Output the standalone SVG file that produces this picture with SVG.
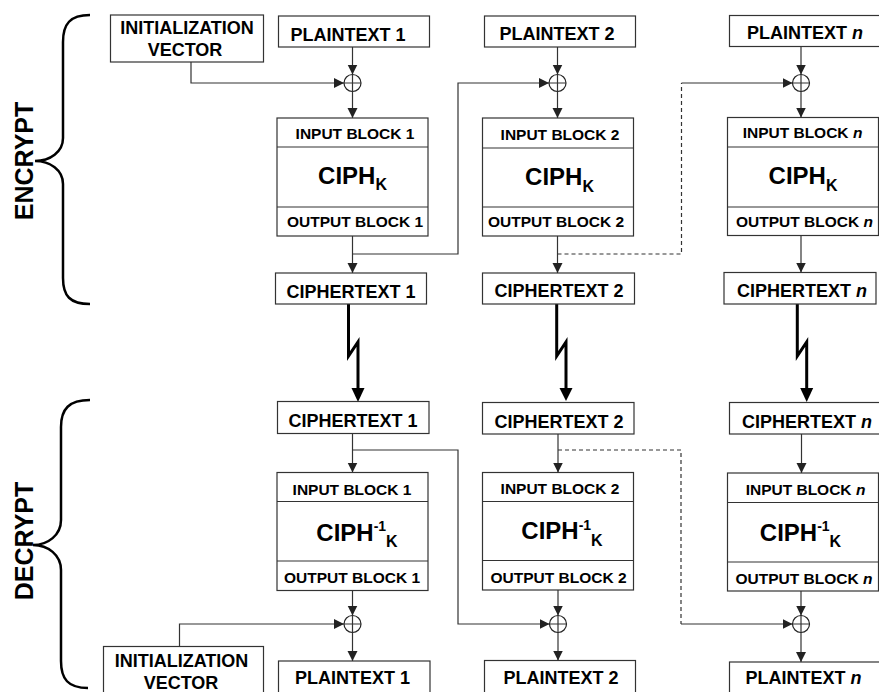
<svg xmlns="http://www.w3.org/2000/svg" width="879" height="692" viewBox="0 0 879 692">
<defs>
<marker id="ah" markerUnits="userSpaceOnUse" markerWidth="11" markerHeight="11" refX="10" refY="5" orient="auto"><path d="M0,0 L10,5 L0,10 z" fill="#222"/></marker>
<style>
text{font-family:"Liberation Sans",Arial,sans-serif;font-weight:bold;fill:#000;text-anchor:middle}
.lbl{font-size:18px}
.blk{font-size:15.5px}
.ciph{font-size:24px}
.sub{font-size:16px}
.sup{font-size:14px}
.side{font-size:25px}
.box{fill:#fff;stroke:#333;stroke-width:1.2}
.div{stroke:#333;stroke-width:1.2}
.c{fill:none;stroke:#333;stroke-width:1.2}
.arr{marker-end:url(#ah)}
.dash{stroke-dasharray:4 3}
.xor{fill:#fff;stroke:#222;stroke-width:1.2}
.bolt{fill:none;stroke:#000;stroke-width:3}
.brace{fill:none;stroke:#000;stroke-width:2.5}
</style>
</defs>
<rect width="879" height="692" fill="#fff"/>

<g id="braces">
<path class="brace" d="M90 15 C70 15 63 24 63 42 V138 C63 152 50 161 35 161 C50 161 63 170 63 184 V278 C63 296 70 304 90 304"/>
<text class="side" transform="translate(33,161) rotate(-90)">ENCRYPT</text>
<path class="brace" d="M90 400 C69 400 61 409 61 427 V520 C61 535 48 545 33 545 C48 545 61 555 61 570 V661 C61 679 68 688 88 688"/>
<text class="side" transform="translate(33,541) rotate(-90)">DECRYPT</text>
</g>

<g id="connectors">
<path class="c arr" d="M352.5 47 V74.5"/>
<path class="c arr" d="M191 62 V83 H344"/>
<path class="c arr" d="M352.5 91.5 V118"/>
<path class="c arr" d="M352.5 236 V273"/>
<path class="c arr" d="M352.5 254 H458 V83 H549"/>
<path class="c arr" d="M557.5 47 V74.5"/>
<path class="c arr" d="M557.5 91.5 V118"/>
<path class="c arr" d="M557.5 236 V273"/>
<path class="c dash" d="M557.5 254 H681.5 V83"/>
<path class="c arr" d="M681.5 83 H792.5"/>
<path class="c arr" d="M801 46 V74.5"/>
<path class="c arr" d="M801 91.5 V117.5"/>
<path class="c arr" d="M801 235.5 V272.5"/>
<path class="bolt" d="M348.5 304 V356 L358 342 V389"/>
<path d="M351.5 388 H364.5 L358 402 z" fill="#000"/>
<path class="bolt" d="M556.7 304 V356 L566 342 V389"/>
<path d="M559.5 388 H572.5 L566 401 z" fill="#000"/>
<path class="bolt" d="M797.3 304 V356 L806.7 342 V389"/>
<path d="M800.2 388 H813.2 L806.7 402 z" fill="#000"/>
<path class="c arr" d="M352.5 433.5 V472.5"/>
<path class="c arr" d="M352.5 450 H458 V624 H549.5"/>
<path class="c arr" d="M352.5 590.5 V615.5"/>
<path class="c arr" d="M179.5 646.5 V624 H344"/>
<path class="c arr" d="M352.5 632.5 V661"/>
<path class="c arr" d="M558 434 V472.5"/>
<path class="c dash" d="M558 450 H681 V624"/>
<path class="c arr" d="M681 624 H792.5"/>
<path class="c arr" d="M558 590 V615.5"/>
<path class="c arr" d="M558 632.5 V660.5"/>
<path class="c arr" d="M801.5 434 V473"/>
<path class="c arr" d="M801 591 V615.5"/>
<path class="c arr" d="M801 632.5 V662"/>
</g>

<g id="xor-e1"><circle class="xor" cx="352.5" cy="83" r="8.5"/><path class="c" d="M344 83 H361 M352.5 74.5 V91.5"/></g>
<g id="xor-e2"><circle class="xor" cx="557.5" cy="83" r="8.5"/><path class="c" d="M549 83 H566 M557.5 74.5 V91.5"/></g>
<g id="xor-en"><circle class="xor" cx="801" cy="83" r="8.5"/><path class="c" d="M792.5 83 H809.5 M801 74.5 V91.5"/></g>
<g id="xor-d1"><circle class="xor" cx="352.5" cy="624" r="8.5"/><path class="c" d="M344 624 H361 M352.5 615.5 V632.5"/></g>
<g id="xor-d2"><circle class="xor" cx="558" cy="624" r="8.5"/><path class="c" d="M549.5 624 H566.5 M558 615.5 V632.5"/></g>
<g id="xor-dn"><circle class="xor" cx="801" cy="624" r="8.5"/><path class="c" d="M792.5 624 H809.5 M801 615.5 V632.5"/></g>

<g id="iv-e"><rect class="box" x="110.5" y="15" width="153" height="47"/><text class="lbl" x="187" y="34">INITIALIZATION</text><text class="lbl" x="185" y="56">VECTOR</text></g>
<g id="pt-e1"><rect class="box" x="278.5" y="16" width="151" height="31"/><text class="lbl" x="348" y="40.5">PLAINTEXT 1</text></g>
<g id="pt-e2"><rect class="box" x="484.5" y="16" width="151" height="31"/><text class="lbl" x="557" y="39.5">PLAINTEXT 2</text></g>
<g id="pt-en"><rect class="box" x="729.5" y="15.5" width="152" height="31"/><text class="lbl" x="805" y="38.5">PLAINTEXT <tspan font-style="italic">n</tspan></text></g>

<g id="ciph-e1"><rect class="box" x="277" y="118" width="151" height="118"/><path class="div" d="M277 147 H428 M277 207 H428"/>
<text class="blk" x="355" y="138.5">INPUT BLOCK 1</text>
<text class="ciph" x="352.5" y="183.5">CIPH<tspan class="sub" dy="6.5">K</tspan></text>
<text class="blk" x="355" y="227">OUTPUT BLOCK 1</text></g>
<g id="ciph-e2"><rect class="box" x="482.5" y="118" width="151" height="118"/><path class="div" d="M482.5 148 H633.5 M482.5 207 H633.5"/>
<text class="blk" x="560" y="139.5">INPUT BLOCK 2</text>
<text class="ciph" x="559.5" y="185">CIPH<tspan class="sub" dy="6.5">K</tspan></text>
<text class="blk" x="556" y="227">OUTPUT BLOCK 2</text></g>
<g id="ciph-en"><rect class="box" x="727.5" y="117.5" width="151" height="118"/><path class="div" d="M727.5 147 H878.5 M727.5 207 H878.5"/>
<text class="blk" x="802.5" y="138">INPUT BLOCK <tspan font-style="italic">n</tspan></text>
<text class="ciph" x="803" y="184">CIPH<tspan class="sub" dy="6.5">K</tspan></text>
<text class="blk" x="804.5" y="227">OUTPUT BLOCK <tspan font-style="italic">n</tspan></text></g>

<g id="ct-e1"><rect class="box" x="275.5" y="273" width="151" height="31"/><text class="lbl" x="351" y="297.5">CIPHERTEXT 1</text></g>
<g id="ct-e2"><rect class="box" x="482.5" y="273" width="152" height="31"/><text class="lbl" x="559" y="297">CIPHERTEXT 2</text></g>
<g id="ct-en"><rect class="box" x="724" y="272.5" width="152" height="31.5"/><text class="lbl" x="802" y="297">CIPHERTEXT <tspan font-style="italic">n</tspan></text></g>

<g id="ct-d1"><rect class="box" x="277.5" y="401.5" width="151.5" height="32"/><text class="lbl" x="353" y="427">CIPHERTEXT 1</text></g>
<g id="ct-d2"><rect class="box" x="482.5" y="402.5" width="151.5" height="31.5"/><text class="lbl" x="559" y="427.5">CIPHERTEXT 2</text></g>
<g id="ct-dn"><rect class="box" x="729.5" y="402.5" width="152" height="31.5"/><text class="lbl" x="807" y="427.5">CIPHERTEXT <tspan font-style="italic">n</tspan></text></g>

<g id="ciph-d1"><rect class="box" x="277" y="472.5" width="151" height="118"/><path class="div" d="M277 501.5 H428 M277 561 H428"/>
<text class="blk" x="352" y="495">INPUT BLOCK 1</text>
<text class="ciph" x="357" y="540.5">CIPH<tspan class="sup" dy="-9.5">-1</tspan><tspan class="sub" dy="16">K</tspan></text>
<text class="blk" x="352" y="583">OUTPUT BLOCK 1</text></g>
<g id="ciph-d2"><rect class="box" x="482.5" y="472.5" width="151" height="117.5"/><path class="div" d="M482.5 501.5 H633.5 M482.5 560.5 H633.5"/>
<text class="blk" x="560" y="493.5">INPUT BLOCK 2</text>
<text class="ciph" x="562" y="539">CIPH<tspan class="sup" dy="-9.5">-1</tspan><tspan class="sub" dy="16">K</tspan></text>
<text class="blk" x="558.5" y="583">OUTPUT BLOCK 2</text></g>
<g id="ciph-dn"><rect class="box" x="727.5" y="473" width="151" height="118"/><path class="div" d="M727.5 502.5 H878.5 M727.5 562 H878.5"/>
<text class="blk" x="805.5" y="495">INPUT BLOCK <tspan font-style="italic">n</tspan></text>
<text class="ciph" x="800.5" y="540.5">CIPH<tspan class="sup" dy="-9.5">-1</tspan><tspan class="sub" dy="16">K</tspan></text>
<text class="blk" x="804" y="583.5">OUTPUT BLOCK <tspan font-style="italic">n</tspan></text></g>

<g id="iv-d"><rect class="box" x="103.5" y="646.5" width="160" height="60"/><text class="lbl" x="181.5" y="667">INITIALIZATION</text><text class="lbl" x="181" y="688.5">VECTOR</text></g>
<g id="pt-d1"><rect class="box" x="278.5" y="661" width="151.5" height="40"/><text class="lbl" x="352.5" y="683.5">PLAINTEXT 1</text></g>
<g id="pt-d2"><rect class="box" x="484.5" y="660.5" width="151" height="40"/><text class="lbl" x="561" y="683.5">PLAINTEXT 2</text></g>
<g id="pt-dn"><rect class="box" x="729.5" y="662" width="152" height="40"/><text class="lbl" x="803.5" y="683.5">PLAINTEXT <tspan font-style="italic">n</tspan></text></g>
</svg>
